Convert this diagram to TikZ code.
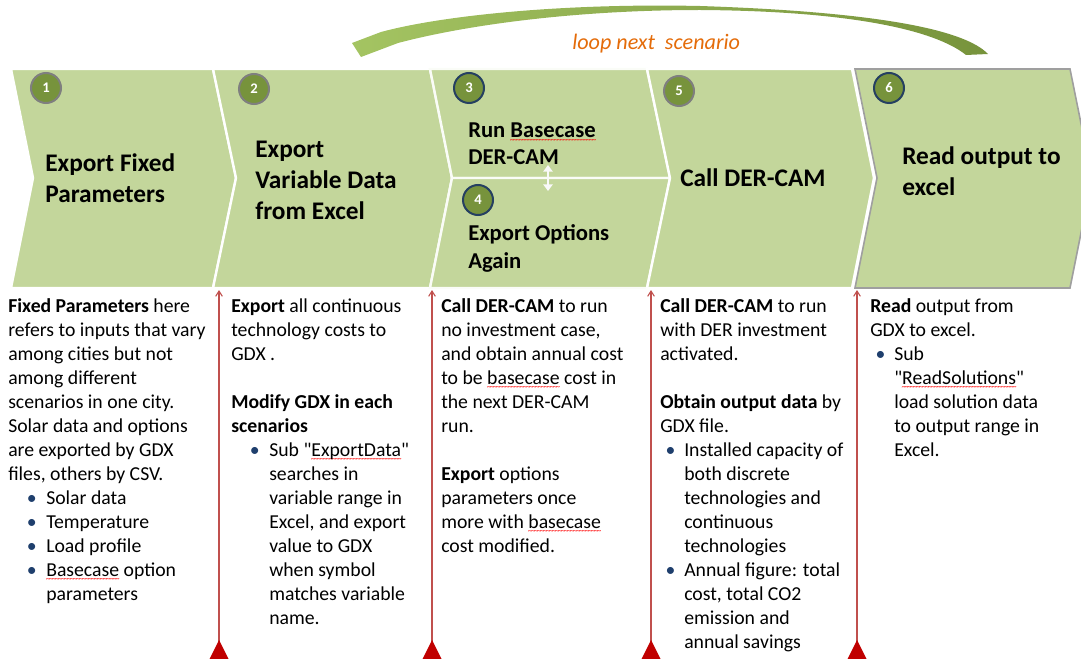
\documentclass[tikz,border=0pt]{standalone}
\usepackage{fontspec}
\setmainfont{Carlito}[Ligatures=TeXOff]
\usepackage{xcolor}
\usepackage{tikz}
\usetikzlibrary{arrows.meta}

\definecolor{chevgreen}{HTML}{C3D69B}
\definecolor{numgreen}{HTML}{77933C}
\definecolor{numgray}{HTML}{7F7F7F}
\definecolor{numblue}{HTML}{254061}
\definecolor{looporange}{HTML}{E46C0A}
\definecolor{arrlight}{HTML}{A4C462}
\definecolor{arrdark}{HTML}{77933C}
\definecolor{redline}{HTML}{C0504D}
\definecolor{redtri}{HTML}{C00000}
\definecolor{bulblue}{HTML}{1F3F6D}

\newsavebox{\sqbox}
\newcommand{\bodyfont}{\fontsize{14.8}{18}\selectfont}
\newcommand{\headfont}{\fontsize{19}{23.6}\selectfont\bfseries}
\newcommand{\subfont}{\fontsize{17}{20.8}\selectfont\bfseries}
\newcommand{\squig}[1]{\leavevmode\sbox{\sqbox}{#1}\rlap{\raisebox{-4pt}[0pt][0pt]{\hbox to \wd\sqbox{\color{red}\fontsize{6}{6}\selectfont\mdseries
  \xleaders\hbox{\kern-0.4pt\char"7E\kern-0.4pt}\hfil}}}\usebox{\sqbox}}
\newcommand{\bulA}{\hspace*{14pt}\makebox[14.5pt][l]{\textcolor{bulblue}{\textbullet}}}
\newcommand{\indA}{\hspace*{28.5pt}}
\newcommand{\bulB}{\hspace*{4pt}\makebox[14pt][l]{\textcolor{bulblue}{\textbullet}}}
\newcommand{\indB}{\hspace*{18pt}}

\begin{document}
\begin{tikzpicture}[x=0.75pt,y=-0.75pt,>={Stealth},
  chev/.style={fill=chevgreen,draw=white,line width=1.8pt,line join=miter},
  num/.style={circle,fill=numgreen,line width=1.5pt,minimum size=22.5pt,inner sep=0pt,
    text=white,font=\fontsize{11}{13}\selectfont\bfseries},
  head/.style={anchor=base west,align=left,inner sep=0pt,font=\headfont},
  sub/.style={anchor=base west,align=left,inner sep=0pt,font=\subfont},
  note/.style={anchor=base west,align=left,inner sep=0pt,font=\bodyfont},
  sep/.style={redline,line width=0.8pt,-{Straight Barb[length=4pt,width=5pt]}}]
\useasboundingbox (0,0) rectangle (1081,659);
\path[clip] (0,0) rectangle (1081,659);

% chevrons
\draw[chev] (11,69) -- (213,69) -- (236,178) -- (213,288) -- (11,288) -- (33,178) -- cycle;
\draw[chev] (213,69) -- (430,69) -- (452,178) -- (430,288) -- (213,288) -- (236,178) -- cycle;
\draw[chev,draw=white!92!chevgreen] (430,69) -- (647,69) -- (670,178) -- (452,178) -- cycle;
\draw[chev,draw=white!92!chevgreen] (452,178) -- (670,178) -- (647,288) -- (430,288) -- cycle;
\draw[chev] (647,69) -- (852,69) -- (874,178) -- (852,288) -- (647,288) -- (670,178) -- cycle;
\draw[chev,draw=gray!75,line width=1.2pt] (855,69) -- (1070,69) -- (1092,178) -- (1070,288)
  -- (855,288) -- (877,178) -- cycle;

% step numbers
\node[num,draw=numgray] (n1) at (46,88) {1};
\node[num,draw=numgray] (n2) at (254,89) {2};
\node[num,draw=numblue] (n3) at (469,88) {3};
\node[num,draw=numblue] (n4) at (478,200) {4};
\node[num,draw=numgray] (n5) at (679,91) {5};
\node[num,draw=numblue] (n6) at (889,88) {6};

% step titles (placed at the baseline of their last line)
\node[head] (h1) at (45,203) {Export Fixed\\Parameters};
\node[head] (h2) at (255,220) {Export\\Variable Data\\from Excel};
\node[sub] (h3) at (468,165) {Run \squig{Basecase}\\DER-CAM};
\node[sub] (h4) at (468,268) {Export Options\\Again};
\node[head] (h5) at (680,187) {Call DER-CAM};
\node[head] (h6) at (902,196) {Read output to\\excel};

\coordinate (s3) at (548,165);
\coordinate (s4) at (548,191);
\draw[white!95!gray,line width=2pt,{Triangle[width=7pt,length=5pt]}-{Triangle[width=7pt,length=5pt]}]
  (s3) -- (s4);

% loop arrow
\shade[left color=arrlight,right color=arrdark]
  (988,54) .. controls (965,30) and (880,12) .. (700,6)
  .. controls (560,3) and (440,16) .. (381,32)
  -- (352,43) -- (361,57) -- (398,43)
  .. controls (470,24) and (580,10) .. (700,10)
  .. controls (850,11) and (935,30) .. (966,55) -- cycle;
\node[anchor=base west,inner sep=0pt,text=looporange,font=\fontsize{16.6}{19}\selectfont\itshape]
  (loop) at (572,50) {loop next\ \ scenario};

% descriptions (placed at the baseline of their last line)
\node[note] (t1) at (8,600) {\textbf{Fixed Parameters} here\\
refers to inputs that vary\\
among cities but not\\
among different\\
scenarios in one city.\\
Solar data and options\\
are exported by GDX\\
files, others by CSV.\\
\bulA Solar data\\
\bulA Temperature\\
\bulA Load profile\\
\bulA \squig{Basecase} option\\
\indA parameters};
\node[note] (t2) at (231,624) {\textbf{Export} all continuous\\
technology costs to\\
GDX .\\[18pt]
\textbf{Modify GDX in each}\\
\textbf{scenarios}\\
\bulA Sub "\squig{ExportData}"\\
\indA searches in\\
\indA variable range in\\
\indA Excel, and export\\
\indA value to GDX\\
\indA when symbol\\
\indA matches variable\\
\indA name.};
\node[note] (t3) at (441,552) {\textbf{Call DER-CAM} to run\\
no investment case,\\
and obtain annual cost\\
to be \squig{basecase} cost in\\
the next DER-CAM\\
run.\\[18pt]
\textbf{Export} options\\
parameters once\\
more with \squig{basecase}\\
cost modified.};
\node[note] (t4) at (660,648) {\textbf{Call DER-CAM} to run\\
with DER investment\\
activated.\\[18pt]
\textbf{Obtain output data} by\\
GDX file.\\
\bulB Installed capacity of\\
\indB both discrete\\
\indB technologies and\\
\indB continuous\\
\indB technologies\\
\bulB Annual figure: total\\
\indB cost, total CO2\\
\indB emission and\\
\indB annual savings};
\node[note] (t5) at (870,456) {\textbf{Read} output from\\
GDX to excel.\\
\bulB Sub\\
\indB "\squig{ReadSolutions}"\\
\indB load solution data\\
\indB to output range in\\
\indB Excel.};

% separators
\foreach \x/\n in {219/2,432/3,651/5,857/6}{
  \coordinate (b\n) at (\x,660);
  \coordinate (e\n) at (\x,290);
  \draw[sep] (b\n) -- (e\n);
  \fill[redtri] (b\n) ++(-10,0) -- ++(10,-20) -- ++(10,20) -- cycle;
}
\end{tikzpicture}
\end{document}
